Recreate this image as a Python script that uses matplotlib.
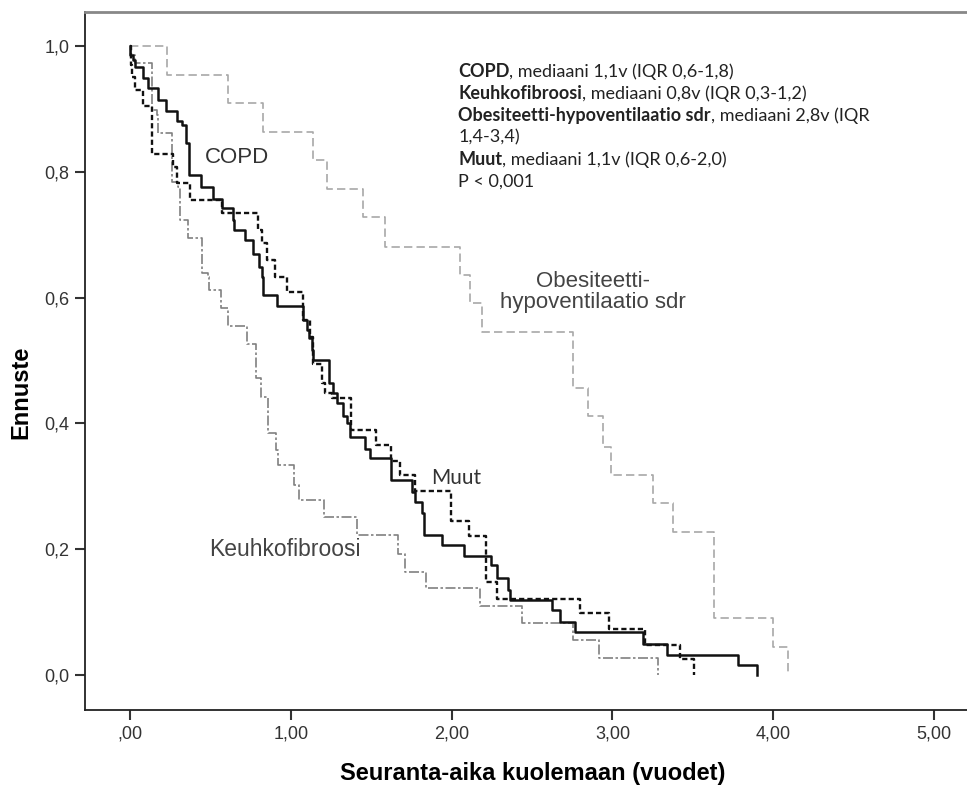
import matplotlib
matplotlib.use("Agg")
import matplotlib.pyplot as plt
from matplotlib.ticker import FixedLocator, FixedFormatter

# Kaplan-Meier -käyrät (aika vuosina, ennuste portaan jälkeen)
copd_t = [0.0, 0.0, 0.02, 0.031, 0.083, 0.114, 0.176, 0.224, 0.294, 0.322, 0.348, 0.369,
          0.44, 0.518, 0.57, 0.642, 0.647, 0.715, 0.767, 0.804, 0.819, 0.827, 0.912, 1.074,
          1.099, 1.115, 1.13, 1.14, 1.238, 1.261, 1.285, 1.327, 1.348, 1.368, 1.461, 1.493,
          1.623, 1.754, 1.772, 1.814, 1.828, 1.943, 2.077, 2.245, 2.282, 2.351, 2.363, 2.622,
          2.674, 2.767, 3.192, 3.338, 3.783, 3.897]
copd_s = [1.0, 0.986, 0.978, 0.967, 0.949, 0.933, 0.914, 0.896, 0.88, 0.874, 0.845, 0.795,
          0.776, 0.756, 0.742, 0.723, 0.707, 0.692, 0.67, 0.649, 0.633, 0.604, 0.586, 0.564,
          0.549, 0.535, 0.517, 0.501, 0.464, 0.448, 0.432, 0.411, 0.4, 0.379, 0.36, 0.345,
          0.31, 0.291, 0.275, 0.257, 0.223, 0.207, 0.189, 0.175, 0.154, 0.135, 0.119, 0.103,
          0.085, 0.068, 0.05, 0.032, 0.016, 0.0]

muut_t = [0.0, 0.005, 0.011, 0.031, 0.083, 0.135, 0.269, 0.294, 0.373, 0.57, 0.798, 0.819,
          0.85, 0.902, 0.978, 1.078, 1.119, 1.136, 1.192, 1.213, 1.254, 1.374, 1.528, 1.623,
          1.682, 1.772, 1.993, 2.108, 2.214, 2.284, 2.799, 2.979, 3.203, 3.42, 3.507]
muut_s = [1.0, 0.97, 0.951, 0.93, 0.904, 0.829, 0.808, 0.782, 0.755, 0.734, 0.707, 0.686,
          0.66, 0.633, 0.609, 0.564, 0.538, 0.495, 0.464, 0.448, 0.44, 0.39, 0.366, 0.34,
          0.318, 0.293, 0.245, 0.221, 0.148, 0.121, 0.098, 0.073, 0.048, 0.025, 0.0]

keuhko_t = [0.0, 0.006, 0.03, 0.135, 0.166, 0.176, 0.259, 0.3, 0.311, 0.363, 0.446, 0.487,
            0.494, 0.563, 0.609, 0.728, 0.784, 0.813, 0.86, 0.908, 0.922, 1.02, 1.053, 1.206,
            1.414, 1.669, 1.71, 1.841, 2.177, 2.436, 2.753, 2.919, 3.285]
keuhko_s = [1.0, 0.985, 0.973, 0.898, 0.89, 0.861, 0.784, 0.776, 0.723, 0.694, 0.639, 0.633,
            0.612, 0.583, 0.555, 0.527, 0.472, 0.442, 0.384, 0.358, 0.334, 0.302, 0.278, 0.252,
            0.223, 0.193, 0.164, 0.138, 0.11, 0.083, 0.055, 0.027, 0.0]

obes_t = [0.0, 0.23, 0.608, 0.829, 1.14, 1.227, 1.447, 1.586, 2.052, 2.114, 2.187, 2.757,
          2.85, 2.94, 2.99, 3.25, 3.379, 3.634, 4.0, 4.094]
obes_s = [1.0, 0.954, 0.909, 0.863, 0.819, 0.772, 0.728, 0.681, 0.636, 0.591, 0.546, 0.456,
          0.411, 0.363, 0.318, 0.273, 0.227, 0.09, 0.045, 0.0]

x_ticks = [0, 1, 2, 3, 4, 5]
x_labels = [',00', '1,00', '2,00', '3,00', '4,00', '5,00']
y_ticks = [0.0, 0.2, 0.4, 0.6, 0.8, 1.0]
y_labels = ['0,0', '0,2', '0,4', '0,6', '0,8', '1,0']

ryhmat = ['COPD', 'Keuhkofibroosi', 'Obesiteetti-hypoventilaatio sdr', 'Muut']
jatkot = [', mediaani 1,1v (IQR 0,6-1,8)', ', mediaani 0,8v (IQR 0,3-1,2)',
          ', mediaani 2,8v (IQR', ', mediaani 1,1v (IQR 0,6-2,0)']

fig = plt.figure(figsize=(9.67, 7.85), dpi=100)
ax = fig.add_axes([85 / 967, 75 / 785, 882 / 967, 698 / 785])

ax.step(obes_t, obes_s, where='post', color='#a8a8a8', lw=1.2, ls=(0, (5, 2.5)))
ax.step(keuhko_t, keuhko_s, where='post', color='#808080', lw=1.2, ls=(0, (6, 1.5, 1.5, 1.5)))
ax.step(muut_t, muut_s, where='post', color='#111111', lw=1.7, ls=(0, (2.2, 1.3)))
ax.step(copd_t, copd_s, where='post', color='#111111', lw=1.8)

ax.set_xlim(-0.28, 5.205)
ax.set_ylim(-0.0556, 1.054)

ax.xaxis.set_major_locator(FixedLocator(x_ticks))
ax.xaxis.set_major_formatter(FixedFormatter(x_labels))
ax.yaxis.set_major_locator(FixedLocator(y_ticks))
ax.yaxis.set_major_formatter(FixedFormatter(y_labels))
ax.tick_params(direction='out', length=7, width=1.5, colors='#333333', labelsize=13, pad=4)
for lab in ax.get_xticklabels() + ax.get_yticklabels():
    lab.set_family('Liberation Sans')

ax.spines['right'].set_visible(False)
ax.spines['top'].set_color('#888888')
ax.spines['top'].set_linewidth(2)
ax.spines['left'].set_color('#222222')
ax.spines['bottom'].set_color('#222222')
ax.spines['left'].set_linewidth(1.3)
ax.spines['bottom'].set_linewidth(1.3)

lab_font = ['Liberation Sans Narrow', 'Liberation Sans']
ax.set_xlabel('Seuranta-aika kuolemaan (vuodet)', family=lab_font, fontweight='bold',
              fontsize=17)
ax.set_ylabel('Ennuste', family=lab_font, fontweight='bold', fontsize=17)
ax.xaxis.set_label_coords(0.508, -0.074)
ax.yaxis.set_label_coords(-0.06, 0.455)

# kayrien nimet
ax.text(0.665, 0.822, 'COPD', ha='center', va='center', fontsize=16,
        family='Liberation Sans', color='#333333')
ax.text(2.03, 0.313, 'Muut', ha='center', va='center', fontsize=15,
        family='Lato', color='#333333')
ax.text(0.964, 0.199, 'Keuhkofibroosi', ha='center', va='center', fontsize=16.5,
        family='Liberation Sans', color='#444444')
ax.text(2.88, 0.609, 'Obesiteetti-\nhypoventilaatio sdr', ha='center', va='center',
        fontsize=16, family='Liberation Sans', color='#444444', linespacing=1.0)

# mediaanit
y0 = 0.950
dy = 0.0347
for i, (r, j) in enumerate(zip(ryhmat, jatkot)):
    yy = y0 - i * dy if i < 3 else y0 - (i + 1) * dy
    b = ax.text(2.04, yy, r, fontweight='bold', fontsize=13, family='Lato',
                color='#222222', va='baseline')
    ax.annotate(j, xy=(1, 0), xycoords=b, va='bottom', fontsize=13, family='Lato',
                color='#222222')
ax.text(2.04, y0 - 3 * dy, '1,4-3,4)', fontsize=13, family='Lato', color='#222222',
        va='baseline')
ax.text(2.04, y0 - 5 * dy, 'P < 0,001', fontsize=13, family='Lato', color='#222222',
        va='baseline')

fig.savefig('out.png', dpi=100, facecolor='white')
